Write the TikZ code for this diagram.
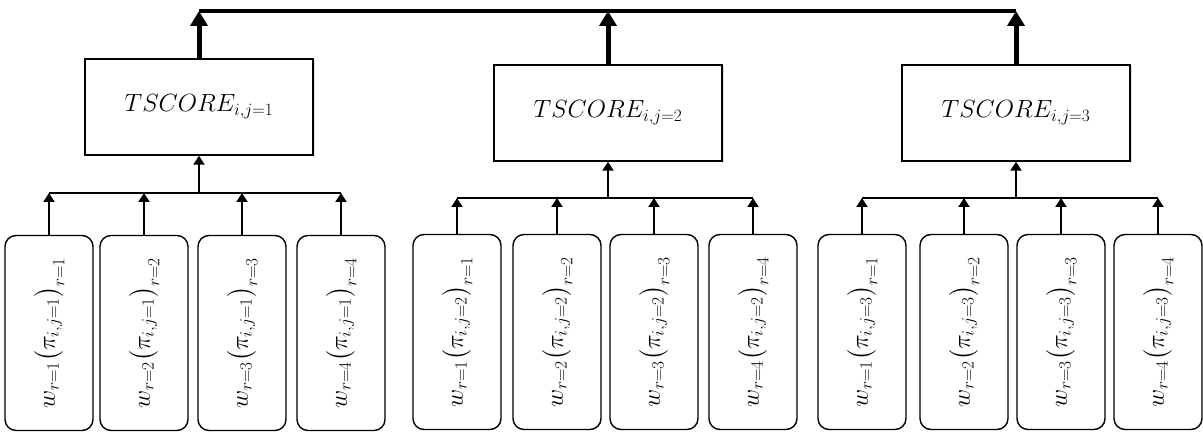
\documentclass[tikz,border=0pt]{standalone}
\usepackage{amsmath,amssymb}
\usepackage{tikz}
\usetikzlibrary{arrows.meta,shadows}

\tikzset{
  scorebox/.style={draw, fill=white, line width=1.4pt, minimum width=228pt, minimum height=96pt,
    font=\fontsize{25}{30}\selectfont,
    drop shadow={opacity=0.25, shadow xshift=1.5pt, shadow yshift=-1.5pt}},
  wbox/.style={draw, line width=1.4pt, rounded corners=11pt, rotate=90,
    minimum width=195pt, minimum height=88pt, inner sep=0pt,
    font=\fontsize{24}{29}\selectfont},
  thinarrow/.style={line width=2pt, -{Triangle[width=11pt,length=9pt]}},
  busline/.style={line width=2pt},
  thickarrow/.style={line width=5pt, -{Triangle[width=17pt,length=15pt]}},
  topline/.style={line width=4.5pt}
}

\begin{document}
\begin{tikzpicture}[x=1pt, y=-1pt]
\useasboundingbox (0,0) rectangle (1203,433);

% score boxes
\foreach \j/\x/\y in {1/199/107, 2/608/113, 3/1016/113}
  \node[scorebox] (score\j) at (\x,\y) {$TSCORE_{i,j=\j}$};

% weighted boxes
\foreach \j/\r/\x/\y in {1/1/49/333, 1/2/144/333, 1/3/242/333, 1/4/341/333,
                         2/1/457/332, 2/2/557/332, 2/3/654/332, 2/4/753/332,
                         3/1/862/332, 3/2/964/332, 3/3/1061/332, 3/4/1158/332}
  \node[wbox] (w\j\r) at (\x,\y) {$w_{r=\r}\bigl(\pi_{i,j=\j}\bigr)_{r=\r}$};

% buses under the score boxes
\foreach \j/\y in {1/193, 2/198, 3/198} {
  \coordinate (bus\j) at (score\j.south |- 0,\y);
  \draw[busline] (w\j1.east |- bus\j) -- (w\j4.east |- bus\j);
  \draw[thinarrow] (bus\j) -- (score\j.south);
  \foreach \r in {1,...,4}
    \draw[thinarrow] (w\j\r.east) -- (w\j\r.east |- bus\j);
}

% top line
\coordinate (top) at (0,11);
\draw[topline] (score1.north |- top) -- (score3.north |- top);
\foreach \j in {1,2,3}
  \draw[thickarrow] (score\j.north) -- (score\j.north |- top);
\end{tikzpicture}
\end{document}
